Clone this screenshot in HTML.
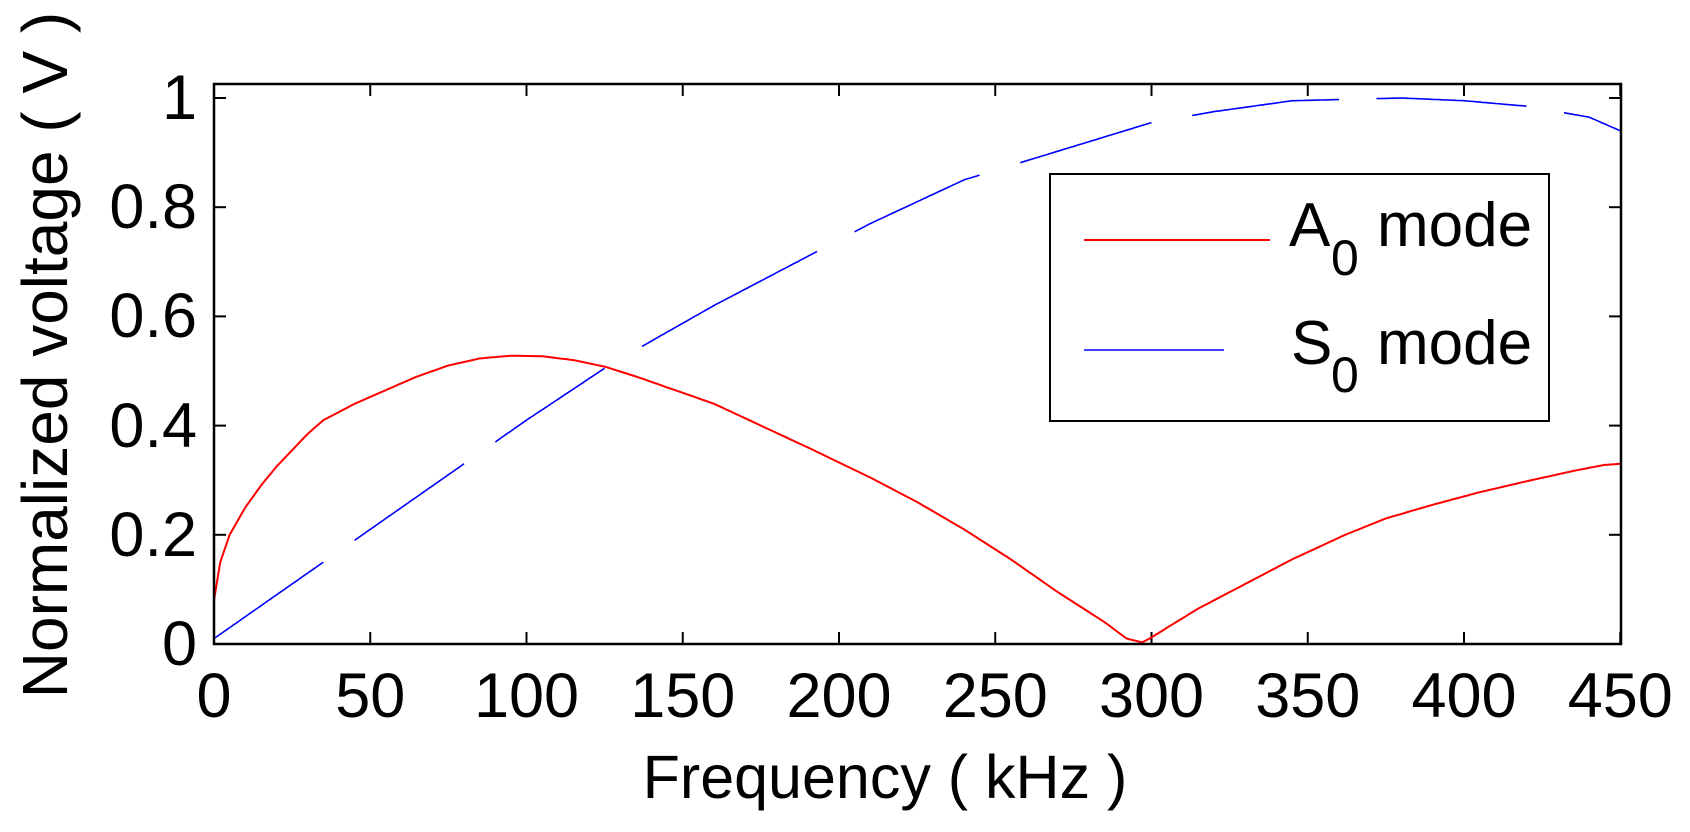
<!DOCTYPE html>
<html><head><meta charset="utf-8"><style>
html,body{margin:0;padding:0;background:#fff;}
svg{display:block;}
text{font-family:"Liberation Sans",Arial,sans-serif;fill:#000;}
</style></head><body>
<svg id="s" width="1690" height="832" viewBox="0 0 1690 832" xmlns="http://www.w3.org/2000/svg">
<rect x="0" y="0" width="1690" height="832" fill="#fff"/>
<g id="ticks" stroke="#000" stroke-width="2"></g>
<path id="red" fill="none" stroke="#f00" stroke-width="2"/>
<path id="blue" fill="none" stroke="#00f" stroke-width="1.6"/>
<rect x="214" y="84" width="1407" height="560" fill="none" stroke="#000" stroke-width="2.5"/>
<g font-size="63" text-anchor="end">
<text x="197" y="665">0</text>
<text x="197" y="556">0.2</text>
<text x="197" y="447">0.4</text>
<text x="197" y="337">0.6</text>
<text x="197" y="228">0.8</text>
<text x="197" y="119">1</text>
</g>
<g font-size="63" text-anchor="middle" id="xl"></g>
<text x="885" y="798" font-size="61" text-anchor="middle">Frequency ( kHz )</text>
<text transform="translate(67,355) rotate(-90)" font-size="64" text-anchor="middle">Normalized voltage ( V )</text>
<rect x="1050" y="174" width="499" height="247" fill="#fff" stroke="#000" stroke-width="2"/>
<line x1="1084" y1="240" x2="1270" y2="240" stroke="#f00" stroke-width="2"/>
<line x1="1084" y1="350" x2="1224" y2="350" stroke="#00f" stroke-width="1.6"/>
<text x="1289" y="246" font-size="62">A</text><text x="1331" y="275" font-size="50">0</text><text x="1377" y="246" font-size="62">mode</text>
<text x="1291" y="364" font-size="62">S</text><text x="1331" y="392" font-size="50">0</text><text x="1377" y="364" font-size="62">mode</text>
</svg>
<script>
var X=function(f){return 214+3.125*f;},Y=function(v){return 644-546*v;};
var t=document.getElementById('ticks'),xl=document.getElementById('xl'),h='',l='';
for(var f=0;f<=450;f+=50){var x=X(f);h+='<line x1="'+x+'" y1="644" x2="'+x+'" y2="632"/><line x1="'+x+'" y1="84" x2="'+x+'" y2="96"/>';l+='<text x="'+x+'" y="717">'+f+'</text>';}
for(var v=0;v<=1.001;v+=0.2){var y=Y(v);h+='<line x1="214" y1="'+y+'" x2="226" y2="'+y+'"/><line x1="1621" y1="'+y+'" x2="1609" y2="'+y+'"/>';}
t.innerHTML=h;xl.innerHTML=l;
function interp(p,f){for(var i=1;i<p.length;i++){if(f<=p[i][0]){var a=p[i-1],b=p[i];return a[1]+(b[1]-a[1])*(f-a[0])/(b[0]-a[0]);}}return p[p.length-1][1];}
var R=[[0,0.08],[2,0.15],[5,0.2],[10,0.25],[15,0.29],[20,0.325],[25,0.355],[30,0.385],[35,0.41],[45,0.44],[55,0.465],[65,0.49],[75,0.51],[85,0.523],[95,0.528],[105,0.527],[115,0.52],[125,0.508],[135,0.49],[145,0.47],[160,0.44],[175,0.40],[190,0.36],[210,0.305],[225,0.26],[240,0.21],[255,0.155],[270,0.095],[285,0.04],[292,0.01],[297,0.003],[300,0.012],[305,0.03],[315,0.065],[330,0.11],[345,0.155],[362,0.2],[375,0.23],[390,0.255],[405,0.278],[420,0.298],[435,0.317],[445,0.328],[450,0.33]];
var B=[[0,0.01],[30,0.13],[50,0.21],[80,0.33],[100,0.41],[125,0.505],[140,0.555],[160,0.62],[190,0.71],[210,0.77],[240,0.85],[260,0.885],[280,0.92],[300,0.955],[320,0.975],[345,0.995],[380,1.0],[400,0.995],[420,0.985],[440,0.965],[450,0.94]];
var d='';for(var f=0;f<=450;f+=1){d+=(f?'L':'M')+X(f).toFixed(1)+' '+Y(interp(R,f)).toFixed(1);}
document.getElementById('red').setAttribute('d',d);
var seg=[[0,35],[45,80],[90,125],[137,193],[205,245],[258,300],[313,360],[372,420],[432,450]],db='';
seg.forEach(function(s){for(var f=s[0];f<=s[1];f+=1){db+=(f==s[0]?'M':'L')+X(f).toFixed(1)+' '+Y(interp(B,f)).toFixed(1);}});
document.getElementById('blue').setAttribute('d',db);
</script>
</body></html>
